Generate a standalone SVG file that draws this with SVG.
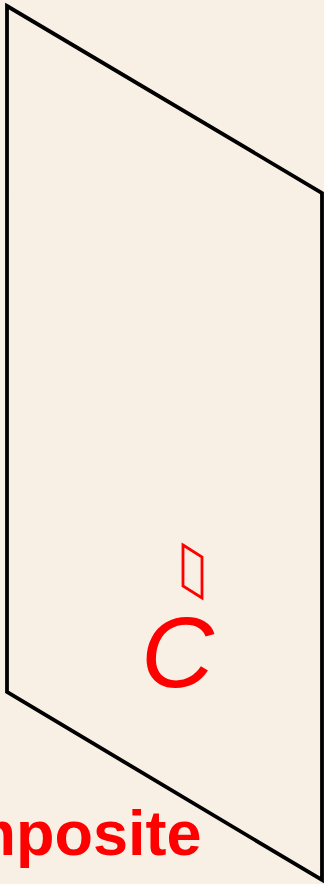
<svg xmlns="http://www.w3.org/2000/svg" width="324" height="884" viewBox="0 0 324 884">
<style>
.plane{fill:none;stroke:#000;stroke-width:3.8;stroke-linejoin:miter}
.mark{fill:none;stroke:#f00;stroke-width:2.8}
.lbl{fill:#f00;font-family:"Liberation Sans",Arial,sans-serif}
</style>
<rect width="324" height="884" fill="#F9F0E5"/>
<g id="plane"><polygon class="plane" points="7,6 322,193 322,880 7,692"/></g>
<g id="pointC"><polygon class="mark" points="183,545 202,557 202,598 183,586"/>
<text class="lbl" x="141" y="687" font-size="101" font-style="italic">C</text></g>
<g id="caption"><text class="lbl" x="-124" y="855" font-size="63" font-weight="bold">Composite</text></g>
</svg>
